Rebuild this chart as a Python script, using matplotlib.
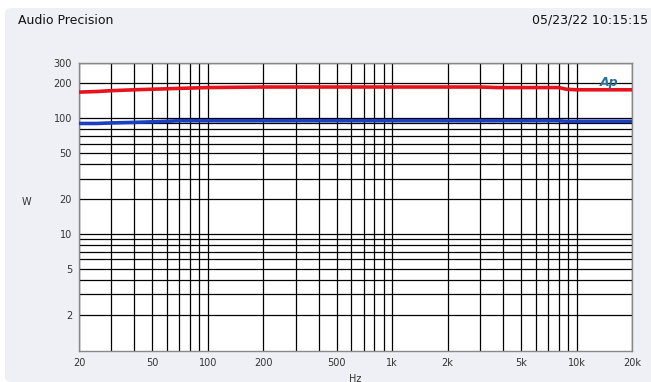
import matplotlib
matplotlib.use("Agg")
import matplotlib.pyplot as plt
from matplotlib.patches import FancyBboxPatch
from matplotlib.ticker import FixedLocator, LogLocator, NullFormatter

# Frequency points (Hz) and measured power (W) for the two channels
freq = [20, 25, 30, 40, 50, 70, 100, 200, 500, 1000, 2000, 3000, 3700,
        5000, 8000, 8800, 10000, 15000, 20000]
red_w = [168, 170, 173, 176, 178, 181, 184, 186, 186, 186, 186, 186, 184,
         184, 184, 178, 176, 176, 176]
blue_w = [90, 90, 91, 92, 93, 95, 95, 95, 95, 95, 95, 95, 95,
          95, 95, 94, 94, 94, 94]

x_ticks = [20, 50, 100, 200, 500, 1000, 2000, 5000, 10000, 20000]
x_labels = ["20", "50", "100", "200", "500", "1k", "2k", "5k", "10k", "20k"]
y_ticks = [2, 5, 10, 20, 50, 100, 200, 300]
y_labels = ["2", "5", "10", "20", "50", "100", "200", "300"]

fig = plt.figure(figsize=(6.51, 3.82), dpi=100)
fig.patch.set_facecolor("white")

# Light grey rounded panel behind everything
panel = FancyBboxPatch((5 / 651, 0), 1.2, (382 - 8) / 382,
                       boxstyle="round,pad=0,rounding_size=0.012",
                       transform=fig.transFigure, facecolor="#eef0f5",
                       edgecolor="none", zorder=-10)
fig.patches.append(panel)

ax = fig.add_axes([79 / 651, 31 / 382, 553 / 651, 288 / 382])
ax.set_facecolor("white")
ax.set_xscale("log")
ax.set_yscale("log")
ax.set_xlim(20, 20000)
ax.set_ylim(0.97, 300)

# All decade subdivisions are drawn as solid black grid lines
ax.xaxis.set_minor_locator(LogLocator(base=10, subs=range(2, 10)))
ax.yaxis.set_minor_locator(LogLocator(base=10, subs=range(2, 10)))
ax.xaxis.set_minor_formatter(NullFormatter())
ax.yaxis.set_minor_formatter(NullFormatter())
ax.grid(True, which="both", color="black", linewidth=0.9)
ax.set_axisbelow(True)

ax.plot(freq, red_w, color="#e8121c", linewidth=2.6, zorder=3)
ax.plot(freq, blue_w, color="#1a3fc0", linewidth=2.6, zorder=3)

ax.xaxis.set_major_locator(FixedLocator(x_ticks))
ax.set_xticklabels(x_labels)
ax.yaxis.set_major_locator(FixedLocator(y_ticks))
ax.set_yticklabels(y_labels)
ax.tick_params(axis="both", which="both", length=0, labelsize=7,
               labelcolor="#333333", pad=5)

for spine in ax.spines.values():
    spine.set_color("#888888")
    spine.set_linewidth(1.0)

ax.set_xlabel("Hz", fontsize=7, color="#333333", labelpad=4)
ax.set_ylabel("W", fontsize=7, color="#333333", rotation=0, labelpad=0)
ax.yaxis.set_label_coords(-0.095, 0.5)

fig.text(18 / 651, 1 - 20 / 382, "Audio Precision", fontsize=9,
         color="#111111", va="center", ha="left")
fig.text(648 / 651, 1 - 20 / 382, "05/23/22 10:15:15", fontsize=9,
         color="#111111", va="center", ha="right")

# Ap logo in the top right corner of the plot
ax.text(0.975, 0.955, "Ap", transform=ax.transAxes, fontsize=9,
        fontstyle="italic", color="#2b6f94", ha="right", va="top",
        fontweight="bold")

fig.savefig("out.png", dpi=100)
